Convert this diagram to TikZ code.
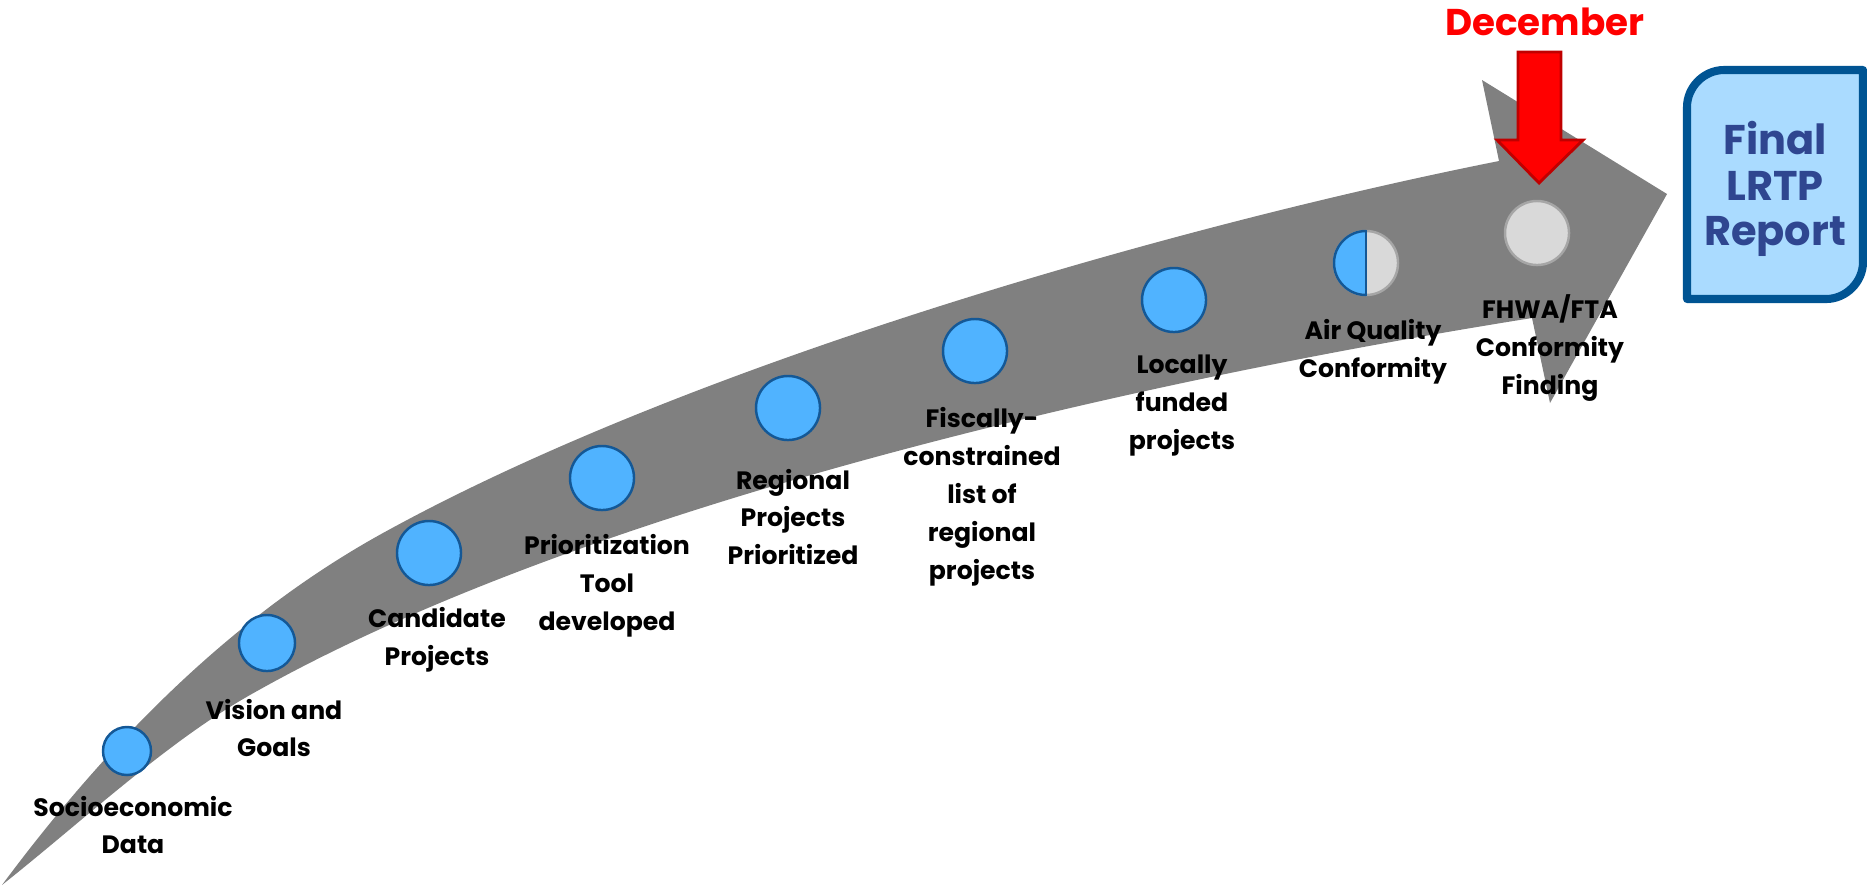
\documentclass[tikz,border=0pt]{standalone}
\usepackage{fontspec}
\setmainfont{Poppins}

\definecolor{arrowgray}{RGB}{128,128,128}
\definecolor{dotblue}{RGB}{80,179,255}
\definecolor{dotedge}{RGB}{20,88,150}
\definecolor{dotgray}{RGB}{217,217,217}
\definecolor{dotgrayedge}{RGB}{166,166,166}
\definecolor{decred}{RGB}{255,0,0}
\definecolor{decredge}{RGB}{192,0,0}
\definecolor{boxfill}{RGB}{170,219,255}
\definecolor{boxedge}{RGB}{0,84,147}
\definecolor{boxtext}{RGB}{47,70,144}

\begin{document}
\begin{tikzpicture}[x=0.01cm,y=-0.01cm]
\tikzstyle{every node}=[inner sep=0pt]
\tikzstyle{bluedot}=[circle,draw=dotedge,fill=dotblue,line width=0.7pt,minimum size=6.4mm]
\tikzstyle{greydot}=[circle,draw=dotgrayedge,fill=dotgray,line width=0.7pt,minimum size=6.4mm]
\tikzstyle{steplabel}=[align=center,font=\bfseries\fontsize{7.15}{10.8}\selectfont]
\useasboundingbox (0,0) rectangle (1867,887);
% the big arrow
\fill[arrowgray] (2,885) .. controls (129,714) and (256,603) .. (383,533)
  .. controls (695,361) and (1187,223) .. (1499,161)
  -- (1482,80) -- (1667,194) -- (1550,403) -- (1532,318)
  .. controls (1105,386) and (570,513) .. (250,695)
  .. controls (167,742) and (85,819) .. (2,885) -- cycle;
% dots
\node[bluedot,minimum size=4.8mm] (dot1) at (127,751) {};
\node[bluedot,minimum size=5.6mm] (dot2) at (267,643) {};
\node[bluedot] (dot3) at (429,553) {};
\node[bluedot] (dot4) at (602,478) {};
\node[bluedot] (dot5) at (788,408) {};
\node[bluedot] (dot6) at (975,351) {};
\node[bluedot] (dot7) at (1174,300) {};
\node[greydot] (dot8) at (1366,263) {};
\begin{scope}
\clip (1325,220) rectangle (1366,306);
\node[bluedot] (dot8b) at (1366,263) {};
\end{scope}
\draw[dotedge,line width=0.7pt] (dot8.north) -- (dot8.south);
\node[greydot] (dot9) at (1537,233) {};
% labels
\node[steplabel] (lab1) at (133,825) {Socioeconomic\\Data};
\node[steplabel] (lab2) at (274,728) {Vision and\\Goals};
\node[steplabel] (lab3) at (437,640) {Candidate\\Projects};
\node[steplabel] (lab4) at (607,586) {Prioritization\\Tool\\developed};
\node[steplabel] (lab5) at (793,517) {Regional\\Projects\\Prioritized};
\node[steplabel] (lab6) at (982,497) {Fiscally-\\constrained\\list of\\regional\\projects};
\node[steplabel] (lab7) at (1182,406) {Locally\\funded\\projects};
\node[steplabel] (lab8) at (1373,352) {Air Quality\\Conformity};
\node[steplabel] (lab9) at (1550,348) {FHWA/FTA\\Conformity\\Finding};
% december marker
\node[font=\bfseries\fontsize{10.6}{13}\selectfont,text=decred] (month) at (1545,22) {December};
\filldraw[fill=decred,draw=decredge,line width=0.8pt] (1518,52) -- (1561,52) -- (1561,140) -- (1583,140) -- (1539,183) -- (1497,140) -- (1518,140) -- cycle;
% report box
\filldraw[fill=boxfill,draw=boxedge,line width=2.3pt,line join=round] (1687,107) .. controls (1687,87) and (1704,70) .. (1724,70) -- (1863,70) -- (1863,262) .. controls (1863,282) and (1846,299) .. (1826,299) -- (1687,299) -- cycle;
\node[font=\bfseries\fontsize{11.8}{12.9}\selectfont,text=boxtext,align=center] (report) at (1775,189) {Final\\LRTP\\Report};
\end{tikzpicture}
\end{document}
